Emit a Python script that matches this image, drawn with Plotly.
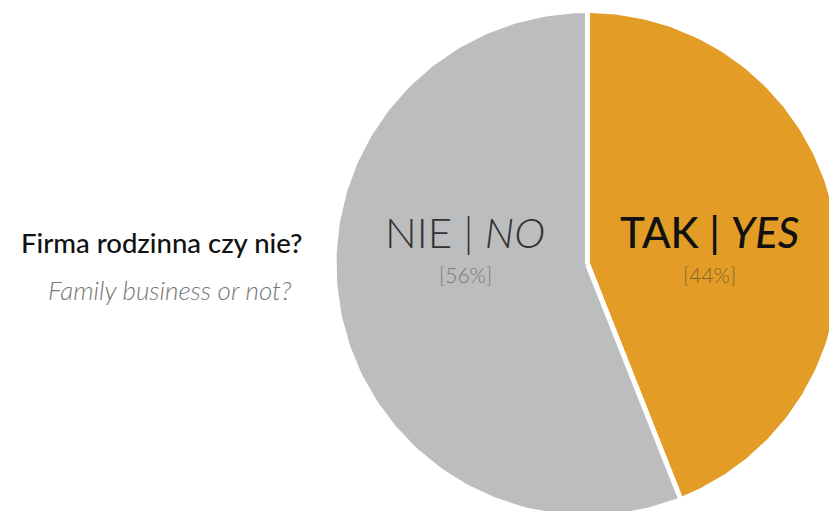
import numpy as np
import plotly.graph_objects as go

# Survey answer: is the company a family business?
answers_pl = ["TAK", "NIE"]
answers_en = ["YES", "NO"]
shares = [44, 56]  # percent
slice_colors = ["#E39D27", "#BCBDBF"]

W, H = 829, 511
# pie centre and radius in screen pixels (pie runs off the right/bottom edge)
CX, CY, R = 587.5, 264.0, 253.5

fig = go.Figure()

# slices drawn clockwise from 12 o'clock, unit-circle data coordinates
fractions = np.array(shares, dtype=float) / sum(shares)
starts = np.concatenate([[0.0], np.cumsum(fractions)[:-1]])
for pl, en, frac, start, col in zip(answers_pl, answers_en, fractions, starts, slice_colors):
    theta = 2 * np.pi * np.linspace(start, start + frac, 200)
    xs = np.concatenate([[0.0], np.sin(theta), [0.0]])
    ys = np.concatenate([[0.0], np.cos(theta), [0.0]])
    fig.add_trace(go.Scatter(
        x=xs, y=ys, mode="lines", fill="toself", fillcolor=col,
        line=dict(color="white", width=5),
        name=f"{pl} | {en}", hoverinfo="name", showlegend=False,
    ))

# axis ranges chosen so one data unit equals R screen pixels
fig.update_xaxes(range=[(0 - CX) / R, (W - CX) / R], visible=False, fixedrange=True)
fig.update_yaxes(range=[(CY - H) / R, CY / R], visible=False, fixedrange=True)


def px(x, y):
    return dict(xref="paper", yref="paper", x=x / W, y=1 - y / H)


# slice labels
label_pos = {"NIE": (465, 232), "TAK": (709, 232)}
label_style = {
    "NIE": dict(name_color="#333333", name_weight=300, pct_color="#7a7a7a"),
    "TAK": dict(name_color="#111111", name_weight=500, pct_color="#84652A"),
}
for pl, en, share in zip(answers_pl, answers_en, shares):
    lx, ly = label_pos[pl]
    st = label_style[pl]
    fig.add_annotation(
        **px(lx, ly), text=f"{pl} | <i>{en}</i>", showarrow=False,
        xanchor="center", yanchor="middle",
        font=dict(family="Lato", size=42, color=st["name_color"], weight=st["name_weight"]),
    )
    fig.add_annotation(
        **px(lx, ly + 42), text=f"[{share}%]", showarrow=False,
        xanchor="center", yanchor="middle",
        font=dict(family="Lato", size=21, color=st["pct_color"], weight=300),
    )

# question text on the left
fig.add_annotation(
    **px(305, 242), text="Firma rodzinna czy nie?", showarrow=False,
    xanchor="right", yanchor="middle",
    font=dict(family="Lato", size=27.5, color="#111111", weight=500),
)
fig.add_annotation(
    **px(294, 290), text="<i>Family business or not?</i>", showarrow=False,
    xanchor="right", yanchor="middle",
    font=dict(family="Lato", size=26, color="#777777", weight=300),
)

fig.update_layout(
    width=W, height=H,
    margin=dict(l=0, r=0, t=0, b=0),
    paper_bgcolor="white", plot_bgcolor="white",
    showlegend=False,
)

fig.write_html("out.html", config={"displayModeBar": False})
